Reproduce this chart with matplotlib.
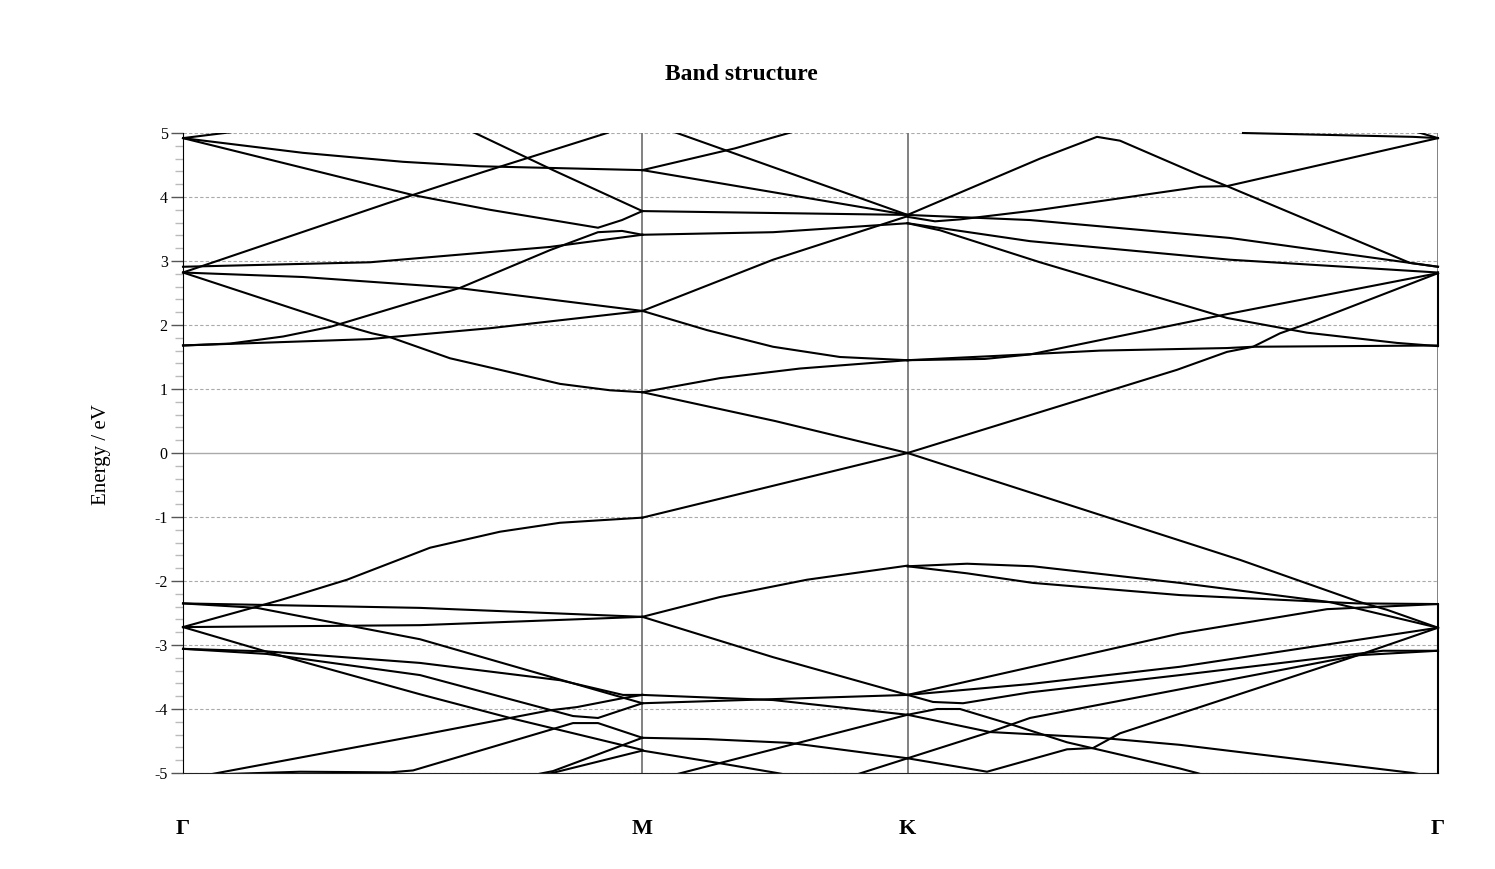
import matplotlib.pyplot as plt
from matplotlib.ticker import MultipleLocator

plt.rcParams['font.family'] = ['Liberation Serif', 'DejaVu Serif']
plt.rcParams['axes.unicode_minus'] = False

k_ticks = [0.0, 0.5774, 0.9107, 1.5774]
k_labels = ['Γ', 'M', 'K', 'Γ']
e_min, e_max = -5, 5

# bands along Γ-M, each a list of (k, E) points
bands_gm = [
    [(0, 4.92), (0.0716, 5.03)],
    [(0, 4.92), (0.1508, 4.69), (0.2765, 4.55), (0.3733, 4.48), (0.5774, 4.42)],
    [(0, 4.92), (0.2891, 4.03), (0.3859, 3.80), (0.5216, 3.52), (0.5518, 3.64), (0.5774, 3.78)],
    [(0.3482, 5.11), (0.3670, 5.0), (0.4651, 4.42), (0.5774, 3.78)],
    [(0, 2.82), (0.2564, 3.90), (0.3771, 4.39), (0.5329, 5.0), (0.5493, 5.08)],
    [(0, 2.91), (0.2350, 2.98), (0.4613, 3.22), (0.5774, 3.41)],
    [(0, 1.68), (0.0591, 1.71), (0.1257, 1.82), (0.1848, 1.97), (0.2011, 2.03),
     (0.3482, 2.58), (0.4613, 3.17), (0.5216, 3.45), (0.5518, 3.47), (0.5774, 3.41)],
    [(0, 1.68), (0.2350, 1.78), (0.2602, 1.81), (0.3859, 1.95), (0.5774, 2.22)],
    [(0, 2.82), (0.2011, 2.00), (0.2376, 1.87), (0.2602, 1.81), (0.3356, 1.48),
     (0.3984, 1.30), (0.4739, 1.08), (0.5367, 0.98), (0.5774, 0.95)],
    [(0, 2.82), (0.1508, 2.75), (0.3444, 2.58), (0.5774, 2.22)],
    [(0, -2.72), (0.1219, -2.30), (0.1433, -2.22), (0.2061, -1.98), (0.3105, -1.48),
     (0.3984, -1.23), (0.4739, -1.09), (0.5774, -1.01)],
    [(0, -2.35), (0.2979, -2.42), (0.5774, -2.56)],
    [(0, -2.35), (0.0930, -2.42), (0.2979, -2.91), (0.4739, -3.54), (0.5774, -3.91)],
    [(0, -2.72), (0.2979, -2.69), (0.5774, -2.56)],
    [(0, -2.72), (0.1094, -3.12), (0.2979, -3.77), (0.4110, -4.14), (0.5774, -4.64)],
    [(0, -3.06), (0.1056, -3.10), (0.2979, -3.28), (0.4739, -3.55), (0.5530, -3.78), (0.5774, -3.78)],
    [(0, -3.06), (0.1056, -3.14), (0.2979, -3.47), (0.4902, -4.11), (0.5216, -4.14), (0.5774, -3.91)],
    [(0.0088, -5.08), (0.2979, -4.41), (0.4613, -4.02), (0.4952, -3.97), (0.5530, -3.83), (0.5774, -3.78)],
    [(0.0200, -5.03), (0.1471, -4.98), (0.2602, -4.99), (0.2891, -4.96), (0.4902, -4.22),
     (0.5216, -4.22), (0.5774, -4.45)],
    [(0.4450, -5.02), (0.4651, -4.97), (0.5774, -4.45)],
    [(0.4575, -5.02), (0.5774, -4.65)],
]

# bands along M-K
bands_mk = [
    [(0.5774, 4.42), (0.6938, 4.76), (0.7755, 5.05)],
    [(0.5774, 4.42), (0.9107, 3.72)],
    [(0.5996, 5.10), (0.6209, 5.0), (0.9107, 3.72)],
    [(0.5774, 3.78), (0.7416, 3.75), (0.9107, 3.72)],
    [(0.5774, 3.41), (0.7416, 3.45), (0.9107, 3.59)],
    [(0.5774, 2.22), (0.7416, 3.02), (0.9107, 3.70)],
    [(0.5774, 2.22), (0.6586, 1.92), (0.7416, 1.66), (0.8258, 1.50), (0.9107, 1.45)],
    [(0.5774, 0.95), (0.6750, 1.17), (0.7755, 1.32), (0.9107, 1.45)],
    [(0.5774, 0.95), (0.7441, 0.50), (0.9107, 0.0)],
    [(0.5774, -1.01), (0.9107, 0.0)],
    [(0.5774, -2.56), (0.7416, -3.19), (0.9107, -3.78)],
    [(0.5774, -2.56), (0.6750, -2.25), (0.7843, -1.98), (0.9107, -1.76)],
    [(0.5774, -3.78), (0.7416, -3.86), (0.9107, -4.09)],
    [(0.5774, -3.91), (0.9107, -3.78)],
    [(0.5774, -4.45), (0.6586, -4.47), (0.7630, -4.53), (0.9107, -4.77)],
    [(0.6200, -5.02), (0.9107, -4.09)],
    [(0.5774, -4.65), (0.6712, -4.84), (0.7466, -5.0), (0.7600, -5.03)],
    [(0.8450, -5.03), (0.9107, -4.77)],
]

# bands along K-Γ
bands_kg = [
    [(0.9107, 3.72), (1.0772, 4.60), (1.1488, 4.94), (1.1777, 4.88), (1.2783, 4.34),
     (1.3122, 4.17), (1.5422, 2.97), (1.5774, 2.91)],
    [(0.9107, 3.69), (0.9452, 3.62), (0.9766, 3.65), (1.0772, 3.80), (1.2783, 4.16),
     (1.3122, 4.17), (1.5774, 4.92)],
    [(0.9107, 3.72), (1.0646, 3.64), (1.3160, 3.36), (1.5774, 2.91)],
    [(0.9107, 3.59), (1.0646, 3.31), (1.3160, 3.02), (1.5774, 2.82)],
    [(0.9107, 3.59), (0.9515, 3.48), (1.0772, 2.98), (1.3122, 2.11), (1.4128, 1.88),
     (1.5259, 1.72), (1.5774, 1.67)],
    [(0.9107, 1.45), (1.0080, 1.47), (1.0646, 1.54), (1.3122, 2.17), (1.5774, 2.81)],
    [(0.9107, 1.45), (1.0269, 1.52), (1.1526, 1.60), (1.3122, 1.64), (1.3449, 1.66),
     (1.5774, 1.68), (1.5774, 2.82)],
    [(0.9107, 0.0), (1.2494, 1.30), (1.3122, 1.58), (1.3449, 1.66), (1.3788, 1.87),
     (1.4128, 2.02), (1.5774, 2.81)],
    [(1.3323, 5.0), (1.5460, 4.94), (1.5774, 4.92)],
    [(1.5500, 5.02), (1.5774, 4.92)],
    [(0.9107, 0.0), (1.3286, -1.67), (1.4794, -2.33), (1.5133, -2.45), (1.5774, -2.73)],
    [(0.9107, -1.77), (0.9854, -1.73), (1.0684, -1.77), (1.2531, -2.03), (1.4417, -2.33),
     (1.5774, -2.73)],
    [(0.9107, -1.77), (0.9854, -1.88), (1.0684, -2.03), (1.2531, -2.22), (1.4756, -2.35),
     (1.5774, -2.36), (1.5774, -5.0)],
    [(0.9107, -3.78), (1.2531, -2.82), (1.4379, -2.44), (1.5774, -2.36)],
    [(0.9107, -3.78), (1.0646, -3.61), (1.2531, -3.34), (1.5774, -2.73)],
    [(0.9107, -3.78), (0.9427, -3.89), (0.9804, -3.91), (1.0646, -3.74), (1.2531, -3.47),
     (1.5083, -3.09), (1.5774, -3.09)],
    [(0.9107, -4.77), (1.0106, -4.98), (1.1111, -4.63), (1.1438, -4.61), (1.1777, -4.38),
     (1.4769, -3.16), (1.5774, -3.09)],
    [(0.9107, -4.77), (1.0143, -4.36), (1.0646, -4.14), (1.4769, -3.16), (1.5774, -2.73)],
    [(0.9107, -4.09), (1.0143, -4.36), (1.1526, -4.45), (1.2531, -4.56), (1.5460, -5.0),
     (1.5600, -5.03)],
    [(0.9107, -4.09), (0.9477, -4.00), (0.9766, -4.00), (1.0433, -4.25), (1.1111, -4.52),
     (1.2531, -4.93), (1.2745, -5.0), (1.2800, -5.02)],
]

fig = plt.figure(figsize=(14.95, 8.69), dpi=100)
ax = fig.add_axes([183 / 1495, 1 - 773 / 869, 1255 / 1495, 640 / 869])

# grid: dashed at each eV, solid at zero
for e in range(e_min, e_max + 1):
    if e == 0:
        ax.axhline(e, color='#aaaaaa', lw=1.0, zorder=1)
    else:
        ax.axhline(e, color='#aaaaaa', lw=0.8, ls=(0, (3, 2)), zorder=1)
for kt in k_ticks[1:]:
    ax.axvline(kt, color='#777777', lw=1.3, zorder=1)

for band in bands_gm + bands_mk + bands_kg:
    ks, es = zip(*band)
    inside = min(es) >= e_min and max(es) <= e_max
    ax.plot(ks, es, color='black', lw=1.5, zorder=3, clip_on=not inside)

ax.set_xlim(k_ticks[0], k_ticks[-1])
ax.set_ylim(e_min, e_max)

ax.spines['top'].set_visible(False)
ax.spines['right'].set_visible(False)
ax.spines['left'].set_color('black')
ax.spines['bottom'].set_color('#222222')

ax.set_xticks(k_ticks)
ax.set_xticklabels(k_labels, fontsize=16, fontweight='bold')
ax.tick_params(axis='x', length=0, pad=33)

ax.yaxis.set_major_locator(MultipleLocator(1))
ax.yaxis.set_minor_locator(MultipleLocator(0.2))
ax.tick_params(axis='y', which='major', length=9, width=1, color='#555555',
               labelsize=11.5, pad=2)
ax.tick_params(axis='y', which='minor', length=6, width=1, color='#bbbbbb')

fig.text(741 / 1495, 1 - 74 / 869, 'Band structure', ha='center', va='center',
         fontsize=17, fontweight='bold')
fig.text(101 / 1495, 1 - 455 / 869, 'Energy / eV', ha='center', va='center',
         rotation=90, fontsize=15)

fig.savefig('out.png', dpi=100)
